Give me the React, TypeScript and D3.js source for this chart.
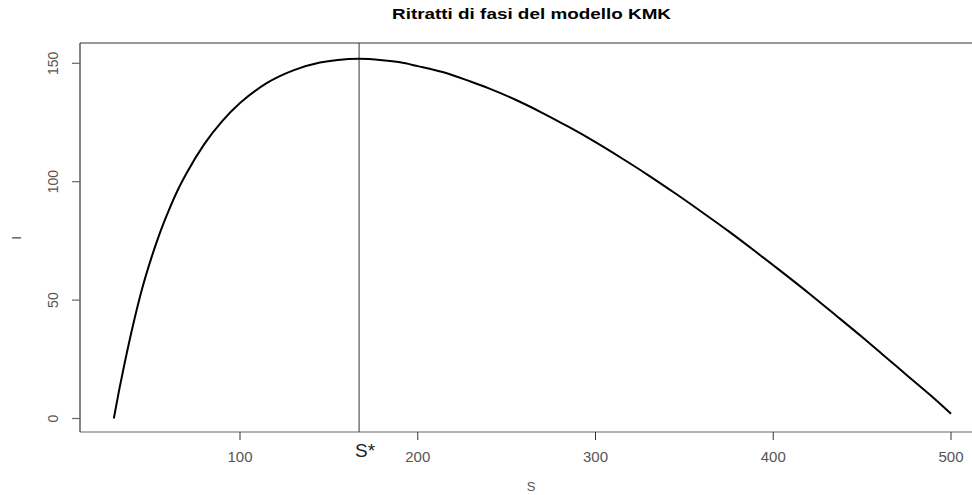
import React from "react";
import * as d3 from "d3";

const W = 972;
const H = 495;

// Phase-portrait curve: S and I values
const sValues = [29, 32, 35, 40, 45, 50, 55, 60, 65, 70, 80, 90, 100, 115, 130, 145, 155, 167, 180, 190, 200, 215, 230, 240, 255, 270, 285, 300, 315, 330, 345, 360, 375, 390, 405, 420, 435, 450, 462, 475, 488, 500];
const iValues = [0, 12, 23, 40, 55, 67.5, 78.5, 88, 96.5, 103.7, 116, 125.6, 133.2, 141.6, 147, 150.3, 151.4, 151.9, 151.3, 150.4, 148.8, 146.1, 142.2, 139.4, 134.6, 129.1, 123.1, 116.7, 109.8, 102.6, 95, 87.1, 79, 70.5, 61.8, 52.9, 43.7, 34.4, 26.7, 18.4, 10.1, 2];

const xTicks = [100, 200, 300, 400, 500];
const yTicks = [0, 50, 100, 150];
const sStar = 167;

const title = "Ritratti di fasi del modello KMK";
const xLabel = "S";
const yLabel = "I";
const sStarLabel = "S*";

export default function App() {
  const left = 80;
  const top = 43;
  const bottom = 432;

  const x = d3.scaleLinear().domain([100, 500]).range([240, 951]);
  const y = d3.scaleLinear().domain([0, 150]).range([418.5, 63.3]);

  const pts: [number, number][] = sValues.map((s, i) => [s, iValues[i]]);
  const line = d3
    .line<[number, number]>()
    .x((d) => x(d[0]))
    .y((d) => y(d[1]))
    .curve(d3.curveMonotoneX);

  const font = "'Liberation Sans', Arial, sans-serif";
  const tickColor = "#666";
  const labelColor = "#555";

  return (
    <svg
      width={W}
      height={H}
      style={{ position: "absolute", left: 0, top: 0, background: "#fff" }}
      fontFamily={font}
    >
      <rect x={0} y={0} width={W} height={H} fill="#fff" />
      <text
        x={531.5}
        y={19}
        textAnchor="middle"
        fontSize={15.5}
        fontWeight="bold"
        fill="#000"
        textLength={279}
        lengthAdjust="spacingAndGlyphs"
      >
        {title}
      </text>

      {/* plot frame (open on the right) */}
      <line x1={left} y1={top} x2={W} y2={top} stroke="#333" strokeWidth={1.2} />
      <line x1={left} y1={bottom} x2={W} y2={bottom} stroke="#666" strokeWidth={1.2} />
      <line x1={left} y1={top} x2={left} y2={bottom} stroke="#333" strokeWidth={1.2} />

      {/* x ticks */}
      {xTicks.map((t) => (
        <g key={"x" + t}>
          <line x1={x(t)} y1={bottom} x2={x(t)} y2={bottom + 8} stroke="#333" strokeWidth={1} />
          <text x={x(t)} y={462} textAnchor="middle" fontSize={15} fill={labelColor}>
            {t}
          </text>
        </g>
      ))}

      {/* y ticks */}
      {yTicks.map((t) => (
        <g key={"y" + t}>
          <line x1={left - 8} y1={y(t)} x2={left} y2={y(t)} stroke={tickColor} strokeWidth={1.2} />
          <text
            transform={`translate(58, ${y(t)}) rotate(-90)`}
            textAnchor="middle"
            fontSize={14}
            fill={labelColor}
          >
            {t}
          </text>
        </g>
      ))}

      {/* S* vertical line */}
      <line x1={x(sStar)} y1={top} x2={x(sStar)} y2={bottom} stroke="#333" strokeWidth={1} />
      <text x={x(sStar) + 6} y={457} textAnchor="middle" fontSize={19} fill="#222">
        {sStarLabel}
      </text>

      {/* curve */}
      <path d={line(pts) ?? ""} fill="none" stroke="#000" strokeWidth={2} strokeLinejoin="round" />

      {/* axis labels */}
      <text x={531} y={491} textAnchor="middle" fontSize={13} fill={labelColor}>
        {xLabel}
      </text>
      <text
        transform={`translate(21, 238) rotate(-90)`}
        textAnchor="middle"
        fontSize={13}
        fill={labelColor}
      >
        {yLabel}
      </text>
    </svg>
  );
}
